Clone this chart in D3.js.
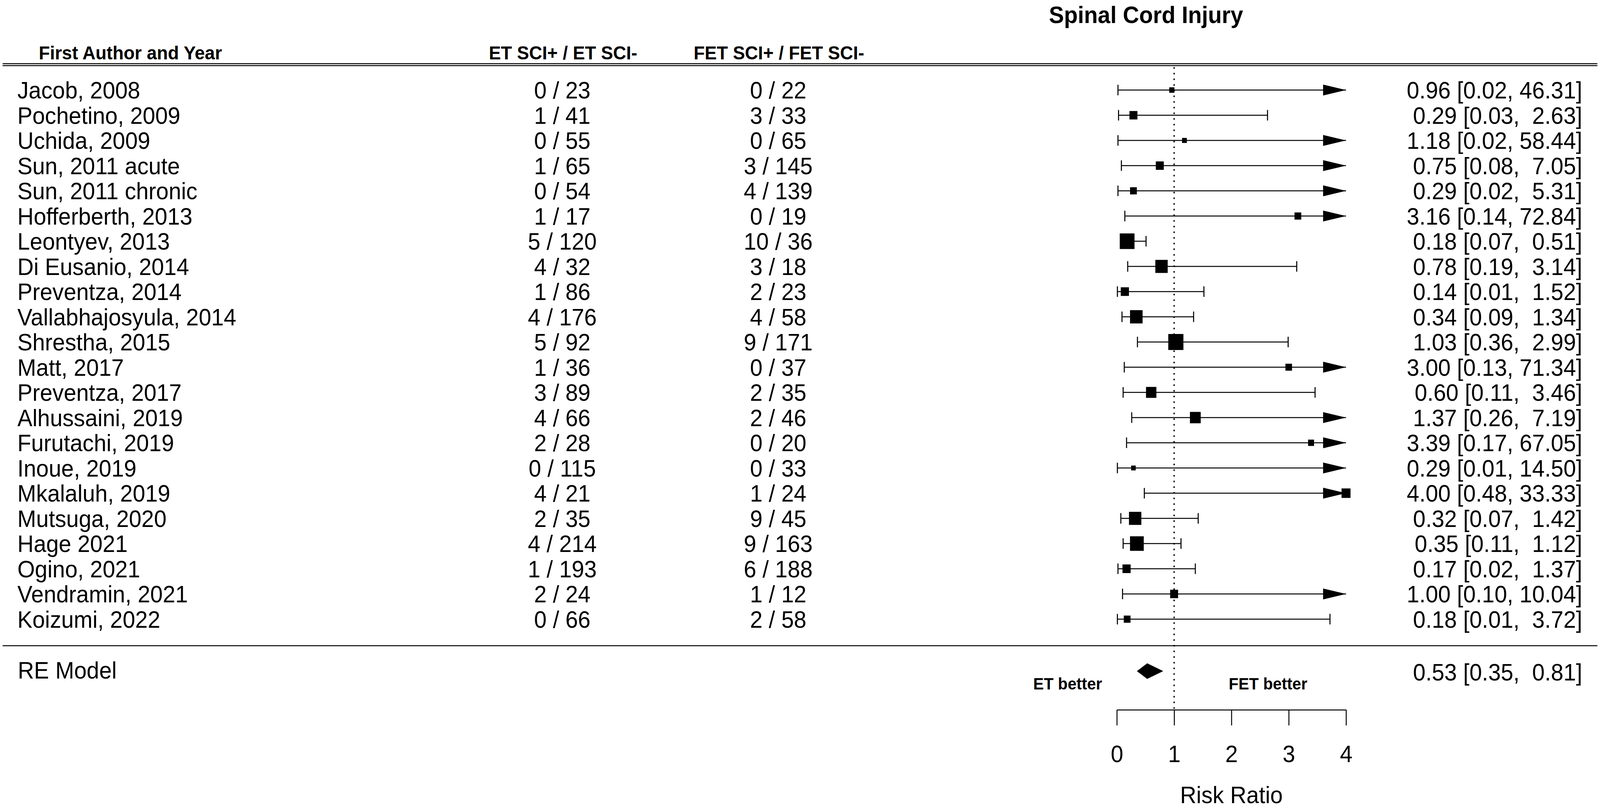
<!DOCTYPE html>
<html>
<head>
<meta charset="utf-8">
<script src="https://cdn.jsdelivr.net/npm/d3@7"></script>
<style>
  html, body { margin: 0; padding: 0; background: #fff; overflow: hidden; }
  #chart { display: block; width: 100vw; height: 100vh; }
  svg text { font-family: "Liberation Sans", Arial, sans-serif; fill: #000; white-space: pre; }
</style>
</head>
<body>
<svg id="chart" viewBox="0 0 4328 2071" preserveAspectRatio="none"></svg>
<script>
// study data
var studies = ["Jacob, 2008", "Pochetino, 2009", "Uchida, 2009", "Sun, 2011 acute", "Sun, 2011 chronic",
  "Hofferberth, 2013", "Leontyev, 2013", "Di Eusanio, 2014", "Preventza, 2014", "Vallabhajosyula, 2014",
  "Shrestha, 2015", "Matt, 2017", "Preventza, 2017", "Alhussaini, 2019", "Furutachi, 2019",
  "Inoue, 2019", "Mkalaluh, 2019", "Mutsuga, 2020", "Hage 2021", "Ogino, 2021", "Vendramin, 2021", "Koizumi, 2022"];
var etPos = [0, 1, 0, 1, 0, 1, 5, 4, 1, 4, 5, 1, 3, 4, 2, 0, 4, 2, 4, 1, 2, 0];
var etNeg = [23, 41, 55, 65, 54, 17, 120, 32, 86, 176, 92, 36, 89, 66, 28, 115, 21, 35, 214, 193, 24, 66];
var fetPos = [0, 3, 0, 3, 4, 0, 10, 3, 2, 4, 9, 0, 2, 2, 0, 0, 1, 9, 9, 6, 1, 2];
var fetNeg = [22, 33, 65, 145, 139, 19, 36, 18, 23, 58, 171, 37, 35, 46, 20, 33, 24, 45, 163, 188, 12, 58];
var rr = [0.96, 0.29, 1.18, 0.75, 0.29, 3.16, 0.18, 0.78, 0.14, 0.34, 1.03, 3.00, 0.60, 1.37, 3.39, 0.29, 4.00, 0.32, 0.35, 0.17, 1.00, 0.18];
var lower = [0.02, 0.03, 0.02, 0.08, 0.02, 0.14, 0.07, 0.19, 0.01, 0.09, 0.36, 0.13, 0.11, 0.26, 0.17, 0.01, 0.48, 0.07, 0.11, 0.02, 0.10, 0.01];
var upper = [46.31, 2.63, 58.44, 7.05, 5.31, 72.84, 0.51, 3.14, 1.52, 1.34, 2.99, 71.34, 3.46, 7.19, 67.05, 14.50, 33.33, 1.42, 1.12, 1.37, 10.04, 3.72];
var weights = [2.6, 4.0, 2.4, 4.0, 3.4, 3.4, 7.4, 6.2, 4.1, 6.3, 7.6, 3.3, 5.2, 5.4, 3.0, 2.3, 4.5, 6.2, 6.9, 4.1, 4.0, 3.4];

// pooled random-effects estimate
var pooled = { label: "RE Model", est: 0.53, lo: 0.35, hi: 0.81 };

var axisTicks = [0, 1, 2, 3, 4];
var title = "Spinal Cord Injury";
var headers = ["First Author and Year", "ET SCI+ / ET SCI-", "FET SCI+ / FET SCI-"];

var svg = d3.select("#chart");

var x = d3.scaleLinear().domain([0, 4]).range([3021, 3641]);
var y = d3.scaleLinear().domain([0, studies.length - 1]).range([230.5, 1585]);
var box = d3.scaleLinear().domain([0, 7.6]).range([0, 41]);

var rows = studies.map(function (s, i) {
  return { name: s, ep: etPos[i], en: etNeg[i], fp: fetPos[i], fn: fetNeg[i],
    est: rr[i], lo: lower[i], hi: upper[i], w: weights[i], i: i };
});

var f2 = d3.format(".2f");
function pad(s, n) { while (s.length < n) s = " " + s; return s; }
function annot(est, lo, hi) {
  return f2(est) + " [" + f2(lo) + ", " + pad(f2(hi), 5) + "]";
}

// title and headers
svg.append("text").attr("x", 3100).attr("y", 59).attr("text-anchor", "middle")
  .style("font-size", "61px").style("font-weight", "bold").text(title);

svg.append("text").attr("x", 105).attr("y", 152).style("font-size", "49px").style("font-weight", "bold").text(headers[0]);
svg.append("text").attr("x", 1523).attr("y", 152).attr("text-anchor", "middle").style("font-size", "49px").style("font-weight", "bold").text(headers[1]);
svg.append("text").attr("x", 2107).attr("y", 152).attr("text-anchor", "middle").style("font-size", "49px").style("font-weight", "bold").text(headers[2]);

// header double rule and separator
[163, 168].forEach(function (yy) {
  svg.append("line").attr("x1", 7).attr("x2", 4321).attr("y1", yy).attr("y2", yy)
    .attr("stroke", "#000").attr("stroke-width", 2.5);
});
svg.append("line").attr("x1", 7).attr("x2", 4321).attr("y1", 1653).attr("y2", 1653)
  .attr("stroke", "#000").attr("stroke-width", 2.5);

// reference line at RR = 1
svg.append("line").attr("x1", x(1)).attr("x2", x(1)).attr("y1", 172).attr("y2", 1817)
  .attr("stroke", "#000").attr("stroke-width", 3.5).attr("stroke-dasharray", "4,10.5");

// text columns
var txt = svg.append("g").style("font-size", "61px");
txt.selectAll(".lab").data(rows).enter().append("text")
  .attr("x", 47).attr("y", function (d) { return y(d.i); }).attr("dy", "0.36em")
  .text(function (d) { return d.name; });
txt.selectAll(".et").data(rows).enter().append("text")
  .attr("x", 1521).attr("y", function (d) { return y(d.i); }).attr("dy", "0.36em")
  .attr("text-anchor", "middle")
  .text(function (d) { return d.ep + " / " + d.en; });
txt.selectAll(".fet").data(rows).enter().append("text")
  .attr("x", 2105).attr("y", function (d) { return y(d.i); }).attr("dy", "0.36em")
  .attr("text-anchor", "middle")
  .text(function (d) { return d.fp + " / " + d.fn; });
txt.selectAll(".ci").data(rows).enter().append("text")
  .attr("x", 4280).attr("y", function (d) { return y(d.i); }).attr("dy", "0.36em")
  .attr("text-anchor", "end")
  .text(function (d) { return annot(d.est, d.lo, d.hi); });

// confidence intervals
var ci = svg.append("g");
var xmax = x.domain()[1];
var arrowLen = 62, arrowHalf = 14, capHalf = 13.5;

ci.selectAll(".ciline").data(rows).enter().append("line")
  .attr("x1", function (d) { return x(d.lo); })
  .attr("x2", function (d) { return x(Math.min(d.hi, xmax)); })
  .attr("y1", function (d) { return y(d.i); })
  .attr("y2", function (d) { return y(d.i); })
  .attr("stroke", "#000").attr("stroke-width", 2.6);

ci.selectAll(".capl").data(rows).enter().append("line")
  .attr("x1", function (d) { return x(d.lo); })
  .attr("x2", function (d) { return x(d.lo); })
  .attr("y1", function (d) { return y(d.i) - capHalf; })
  .attr("y2", function (d) { return y(d.i) + capHalf; })
  .attr("stroke", "#000").attr("stroke-width", 2.8);

ci.selectAll(".capu").data(rows.filter(function (d) { return d.hi <= xmax; })).enter().append("line")
  .attr("x1", function (d) { return x(d.hi); })
  .attr("x2", function (d) { return x(d.hi); })
  .attr("y1", function (d) { return y(d.i) - capHalf; })
  .attr("y2", function (d) { return y(d.i) + capHalf; })
  .attr("stroke", "#000").attr("stroke-width", 2.8);

ci.selectAll(".arrow").data(rows.filter(function (d) { return d.hi > xmax; })).enter().append("path")
  .attr("d", function (d) {
    var tip = x(xmax), yy = y(d.i);
    return "M" + (tip - arrowLen) + "," + (yy - arrowHalf) + "L" + tip + "," + yy +
      "L" + (tip - arrowLen) + "," + (yy + arrowHalf) + "Z";
  })
  .attr("fill", "#000");

ci.selectAll(".box").data(rows).enter().append("rect")
  .attr("x", function (d) { return x(d.est) - box(d.w) / 2; })
  .attr("y", function (d) { return y(d.i) - box(d.w) / 2; })
  .attr("width", function (d) { return box(d.w); })
  .attr("height", function (d) { return box(d.w); })
  .attr("fill", "#000");

// pooled estimate
var yRE = 1718;
svg.append("text").attr("x", 48).attr("y", 1715).attr("dy", "0.36em").style("font-size", "61px").text(pooled.label);
svg.append("polygon")
  .attr("points", [[x(pooled.lo), yRE], [x(pooled.est), yRE - 20], [x(pooled.hi), yRE], [x(pooled.est), yRE + 20]]
    .map(function (p) { return p.join(","); }).join(" "))
  .attr("fill", "#000");
svg.append("text").attr("x", 4280).attr("y", 1720).attr("dy", "0.36em").attr("text-anchor", "end")
  .style("font-size", "61px").text(annot(pooled.est, pooled.lo, pooled.hi));

svg.append("text").attr("x", 2888).attr("y", 1750).attr("dy", "0.36em").attr("text-anchor", "middle")
  .style("font-size", "43px").style("font-weight", "bold").text("ET better");
svg.append("text").attr("x", 3430).attr("y", 1750).attr("dy", "0.36em").attr("text-anchor", "middle")
  .style("font-size", "43px").style("font-weight", "bold").text("FET better");

// x axis
var axis = d3.axisBottom(x).tickValues(axisTicks).tickFormat(d3.format("d"))
  .tickSize(40).tickSizeOuter(0).tickPadding(51);
var gx = svg.append("g").attr("transform", "translate(0,1817)").call(axis);
gx.select(".domain").attr("stroke-width", 2.6);
gx.selectAll(".tick line").attr("stroke-width", 2.6);
gx.selectAll(".tick text").style("font-size", "61px").style("font-family", "'Liberation Sans', Arial, sans-serif");

svg.append("text").attr("x", x(2)).attr("y", 2056).attr("text-anchor", "middle")
  .style("font-size", "61px").text("Risk Ratio");
</script>
</body>
</html>
